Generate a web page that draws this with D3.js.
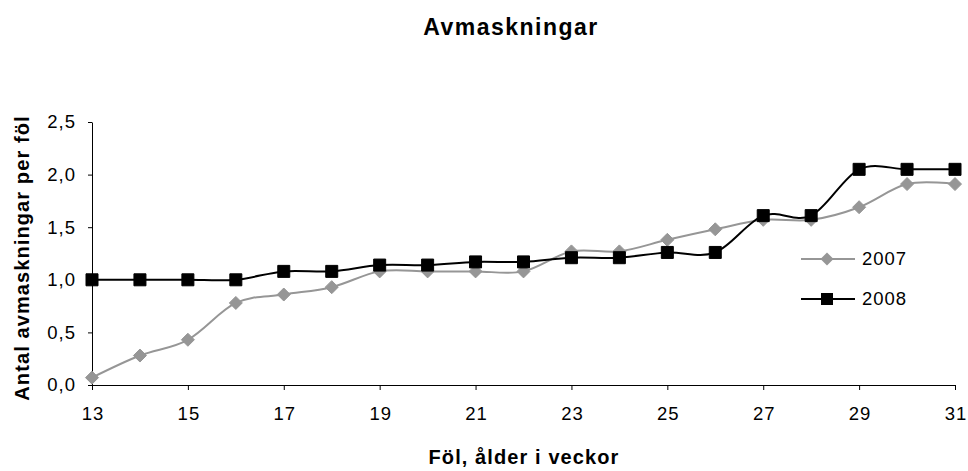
<!DOCTYPE html>
<html>
<head>
<meta charset="utf-8">
<script src="https://cdn.jsdelivr.net/npm/d3@7"></script>
<style>
  body { margin: 0; background: #fff; }
  text { font-family: "Liberation Sans", Arial, sans-serif; fill: #000; }
</style>
</head>
<body>
<svg id="chart" width="968" height="471"></svg>
<script>
const weeks = [13, 14, 15, 16, 17, 18, 19, 20, 21, 22, 23, 24, 25, 26, 27, 28, 29, 30, 31];
const values2007 = [0.07, 0.28, 0.43, 0.78, 0.86, 0.93, 1.08, 1.08, 1.08, 1.08, 1.27, 1.27, 1.38, 1.48, 1.57, 1.57, 1.69, 1.91, 1.91];
const values2008 = [1.0, 1.0, 1.0, 1.0, 1.08, 1.08, 1.14, 1.14, 1.17, 1.17, 1.21, 1.21, 1.26, 1.26, 1.61, 1.61, 2.05, 2.05, 2.05];
const xTicks = [13, 15, 17, 19, 21, 23, 25, 27, 29, 31];
const yTicks = [0, 0.5, 1.0, 1.5, 2.0, 2.5];
const seriesNames = ["2007", "2008"];

const svg = d3.select("#chart");

const plotLeft = 92, plotRight = 955, plotTop = 122, plotBottom = 385;

const x = d3.scaleLinear().domain([13, 31]).range([plotLeft, plotRight]);
const y = d3.scaleLinear().domain([0, 2.5]).range([plotBottom, plotTop]);

const fmt = (d) => d3.format(".1f")(d).replace(".", ",");

// title
svg
  .append("text")
  .attr("x", 511)
  .attr("y", 35)
  .attr("text-anchor", "middle")
  .style("font-size", "23px")
  .style("font-weight", "bold")
  .style("letter-spacing", "1.5px")
  .text("Avmaskningar");

// y axis
const yAxis = svg
  .append("g")
  .attr("transform", `translate(${plotLeft},0)`)
  .call(d3.axisLeft(y).tickValues(yTicks).tickFormat(fmt).tickSize(4).tickSizeOuter(0).tickPadding(12));

// x axis
const xAxis = svg
  .append("g")
  .attr("transform", `translate(0,${plotBottom})`)
  .call(d3.axisBottom(x).tickValues(xTicks).tickSize(5).tickSizeOuter(0).tickPadding(17));

[yAxis, xAxis].forEach((g) => {
  g.select(".domain").attr("stroke", "#000").attr("stroke-width", 1);
  g.selectAll(".tick line").attr("stroke", "#000");
  g.selectAll(".tick text")
    .style("font-size", "18.5px")
    .style("font-family", '"Liberation Sans", Arial, sans-serif')
    .style("letter-spacing", "1px")
    .attr("fill", "#000");
});
xAxis.selectAll(".tick text").attr("dx", "0.5px");

// axis titles
svg
  .append("text")
  .attr("x", 524)
  .attr("y", 464)
  .attr("text-anchor", "middle")
  .style("font-size", "20px")
  .style("font-weight", "bold")
  .style("letter-spacing", "1.1px")
  .text("Föl, ålder i veckor");

svg
  .append("text")
  .attr("transform", "translate(28.5,258) rotate(-90)")
  .attr("text-anchor", "middle")
  .style("font-size", "20px")
  .style("font-weight", "bold")
  .style("letter-spacing", "1.1px")
  .text("Antal avmaskningar per föl");

const line = d3
  .line()
  .x((d, i) => x(weeks[i]))
  .y((d) => y(d))
  .curve(d3.curveCardinal.tension(0));

const series = [
  { name: seriesNames[0], values: values2007, color: "#969696", marker: "diamond" },
  { name: seriesNames[1], values: values2008, color: "#000000", marker: "square" },
];

const diamond = (s) => `M0,${-s}L${s},0L0,${s}L${-s},0Z`;
const square = (s) => `M${-s},${-s}H${s}V${s}H${-s}Z`;

series.forEach((s) => {
  svg
    .append("path")
    .attr("d", line(s.values))
    .attr("fill", "none")
    .attr("stroke", s.color)
    .attr("stroke-width", 2);

  svg
    .selectAll(null)
    .data(s.values)
    .join("path")
    .attr("transform", (d, i) => `translate(${x(weeks[i])},${y(d)})`)
    .attr("d", s.marker === "diamond" ? diamond(6.5) : square(6))
    .attr("fill", s.color)
    .attr("stroke", s.color);
});

// legend
const legend = svg
  .selectAll(".legend")
  .data(series)
  .join("g")
  .attr("class", "legend")
  .attr("transform", (d, i) => `translate(801,${259 + i * 40})`);

legend
  .append("line")
  .attr("x1", 0)
  .attr("x2", 54)
  .attr("stroke", (d) => d.color)
  .attr("stroke-width", 2);

legend
  .append("path")
  .attr("transform", "translate(26,0)")
  .attr("d", (d) => (d.marker === "diamond" ? diamond(6.5) : square(6)))
  .attr("fill", (d) => d.color);

legend
  .append("text")
  .attr("x", 61)
  .attr("dy", "0.35em")
  .style("font-size", "18.5px")
  .style("letter-spacing", "1px")
  .text((d) => d.name);
</script>
</body>
</html>
